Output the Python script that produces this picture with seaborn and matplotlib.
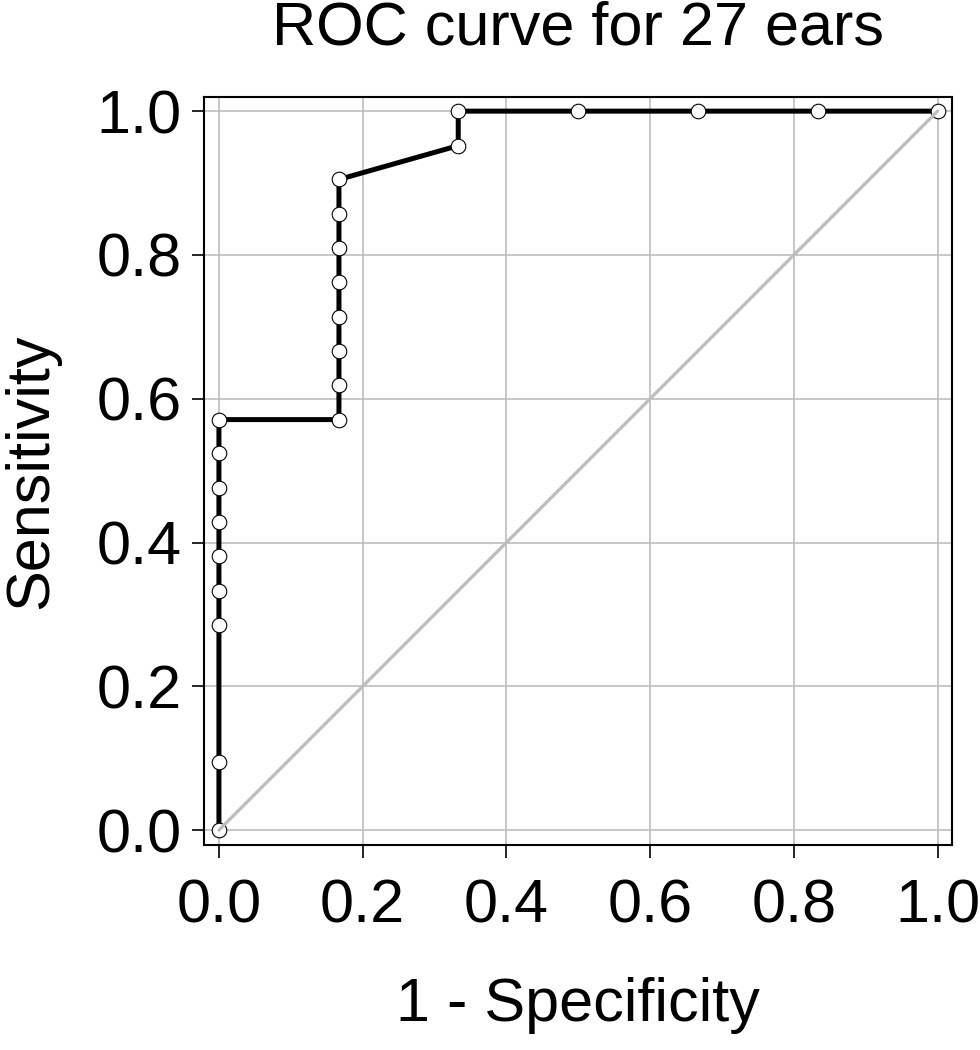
import matplotlib
matplotlib.use("Agg")
import matplotlib.pyplot as plt
import seaborn as sns
import pandas as pd

# pontos da curva ROC (1 - especificidade, sensibilidade)
fpr = [0.0, 0.0, 0.0, 0.0, 0.0, 0.0, 0.0, 0.0, 0.0,
       0.167, 0.167, 0.167, 0.167, 0.167, 0.167, 0.167, 0.167,
       0.333, 0.333, 0.5, 0.667, 0.833, 1.0]
tpr = [0.0, 0.095, 0.286, 0.333, 0.381, 0.429, 0.476, 0.524, 0.571,
       0.571, 0.619, 0.667, 0.714, 0.762, 0.810, 0.857, 0.905,
       0.952, 1.0, 1.0, 1.0, 1.0, 1.0]
diag = [0.0, 1.0]
ticks = [0.0, 0.2, 0.4, 0.6, 0.8, 1.0]
tick_labels = ["0.0", "0.2", "0.4", "0.6", "0.8", "1.0"]

sns.set_style("white")
plt.rcParams['font.family'] = ['Liberation Sans', 'DejaVu Sans']
plt.rcParams['text.color'] = 'black'
plt.rcParams['axes.labelcolor'] = 'black'
plt.rcParams['xtick.color'] = 'black'
plt.rcParams['ytick.color'] = 'black'

df = pd.DataFrame({'fpr': fpr, 'tpr': tpr})

fig = plt.figure(figsize=(9.8, 10.5), dpi=100)
ax = fig.add_axes([0.208, 0.195, 0.763, 0.7125])

for t in ticks:
    ax.axvline(t, color='#BEBEBE', lw=1.2, zorder=0)
    ax.axhline(t, color='#BEBEBE', lw=1.2, zorder=0)

sns.lineplot(data=df, x='fpr', y='tpr', sort=False, estimator=None,
             color='black', lw=3.6, marker='o', markersize=10.5,
             markerfacecolor='white', markeredgecolor='black',
             markeredgewidth=0.8, ax=ax, zorder=2)
sns.lineplot(x=diag, y=diag, color='#BEBEBE', lw=2.4, ax=ax, zorder=3)

ax.set_xlim(-0.021, 1.0195)
ax.set_ylim(-0.021, 1.0195)
ax.set_xticks(ticks)
ax.set_xticklabels(tick_labels)
ax.set_yticks(ticks)
ax.set_yticklabels(tick_labels)
ax.tick_params(axis='both', labelsize=44, length=9, width=1.2,
               direction='out', color='black', left=True, bottom=True)
ax.tick_params(axis='x', pad=15)
ax.tick_params(axis='y', pad=7)

for s in ax.spines.values():
    s.set_color('black')
    s.set_linewidth(1.5)

ax.set_xlabel('1 - Specificity', fontsize=44, labelpad=30)
ax.set_ylabel('Sensitivity', fontsize=44, labelpad=26)
ax.set_title('ROC curve for 27 ears', fontsize=44, pad=38)

plt.savefig('out.png', dpi=100)
